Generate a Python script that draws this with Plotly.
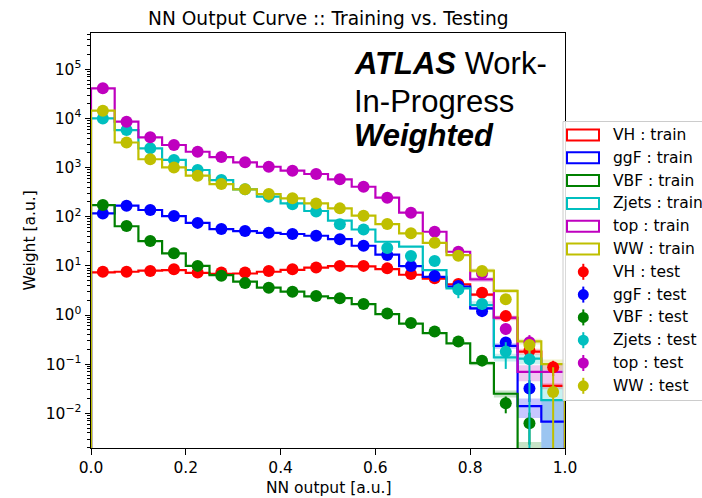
import plotly.graph_objects as go

# Histogram binning of the network output
bin_edges = [0.00, 0.05, 0.10, 0.15, 0.20, 0.25, 0.30, 0.35, 0.40, 0.45,
             0.50, 0.55, 0.60, 0.65, 0.70, 0.75, 0.80, 0.85, 0.90, 0.95, 1.00]
bin_centers = [0.025, 0.075, 0.125, 0.175, 0.225, 0.275, 0.325, 0.375, 0.425, 0.475,
               0.525, 0.575, 0.625, 0.675, 0.725, 0.775, 0.825, 0.875, 0.925, 0.975]

x_tick_vals = [0.0, 0.2, 0.4, 0.6, 0.8, 1.0]
x_tick_text = ["0.0", "0.2", "0.4", "0.6", "0.8", "1.0"]
y_tick_vals = [1e-2, 1e-1, 1e0, 1e1, 1e2, 1e3, 1e4, 1e5]
y_tick_text = ["10<sup>\u22122</sup>", "10<sup>\u22121</sup>", "10<sup>0</sup>",
               "10<sup>1</sup>", "10<sup>2</sup>", "10<sup>3</sup>",
               "10<sup>4</sup>", "10<sup>5</sup>"]

processes = ["VH", "ggF", "VBF", "Zjets", "top", "WW"]
colors = {
    "VH": (255, 0, 0),
    "ggF": (0, 0, 255),
    "VBF": (0, 128, 0),
    "Zjets": (0, 191, 191),
    "top": (191, 0, 191),
    "WW": (191, 191, 0),
}

# Weighted yields per bin, training sample
vh_train = [7.4, 7.6, 8.0, 8.2, 7.2, 6.9, 7.0, 7.6, 8.3, 9.2,
            9.9, 9.8, 8.6, 6.6, 5.5, 4.2, 2.6, 0.88, 0.18, 0.036]
ggf_train = [117, 168, 137, 103, 75, 56, 51, 47, 44.5, 41,
             35, 25.7, 17, 9.9, 6.0, 3.8, 1.37, 0.235, 0.014, 0.0068]
vbf_train = [173, 64, 32, 18, 10, 6.5, 4.8, 3.6, 3.0, 2.4,
             2.2, 1.67, 1.04, 0.67, 0.43, 0.265, 0.105, 0.025, 0, 0]
zjets_train = [10000, 5800, 2470, 1430, 893, 558, 361, 256, 187, 131,
               83, 55, 31, 24.6, 8.2, 3.5, 1.6, 0.138, 0.13, 0.0186]
top_train = [41000, 8600, 4130, 2880, 2100, 1640, 1280, 1040, 865, 740,
             577, 408, 244, 121, 49.5, 19.4, 5.3, 0.88, 0.07, 0.07]
ww_train = [14400, 3240, 1480, 1010, 684, 463, 361, 289, 237, 187,
            148, 105, 71, 46, 29.5, 16.5, 8.0, 3.1, 0.29, 0.1]

# Statistical uncertainty of the training histograms
vh_train_err = [0] * 16 + [0.2, 0.08, 0.025, 0.005]
ggf_train_err = [0] * 16 + [0.1, 0.03, 0.006, 0.011]
vbf_train_err = [0] * 16 + [0.01, 0.004, 0.0026, 0]
zjets_train_err = [0] * 16 + [0.3, 0.025, 0.03, 0.019]
top_train_err = [0] * 16 + [0.6, 0.1, 0.025, 0.035]
ww_train_err = [0] * 16 + [0.8, 0.3, 0.04, 0.025]

# Weighted yields per bin, testing sample (None: empty bin)
vh_test = [7.6, 7.6, 7.9, 8.5, 7.3, 7.3, 7.3, 7.85, 8.5, 9.3,
           10, 10, 8.9, 6.8, 5.6, 4.3, 2.85, 0.95, 0.19, 0.087]
ggf_test = [117, 168, 137, 103, 75, 56, 51, 47, 44.5, 41,
            35, 25.7, 16.6, 9.9, 6.2, 3.9, 1.2, 0.275, 0.032, None]
vbf_test = [173, 64.6, 32, 18, 10, 6.3, 4.5, 3.6, 2.96, 2.45,
            2.2, 1.67, 1.07, 0.69, 0.46, 0.29, 0.118, 0.016, 0.0063, None]
zjets_test = [10000, 5800, 2470, 1430, 893, 558, 361, 256, 180, 128,
              70, 55, 23, 15.9, 12.6, 3.3, 1.67, 0.18, 0.126, None]
top_test = [41000, 8600, 4130, 2880, 2100, 1640, 1280, 1040, 865, 740,
            577, 408, 244, 121, 49.5, 19.4, 7.1, 0.52, 0.28, None]
ww_test = [14400, 3240, 1480, 1010, 684, 463, 361, 289, 237, 187,
           148, 105, 71, 46, 29.5, 16, 7.9, 2.1, 0.245, 0.027]

vh_test_err = [0] * 16 + [0.3, 0.15, 0.05, 0.03]
ggf_test_err = [0] * 16 + [0.15, 0.04, 0.015, 0]
vbf_test_err = [0] * 16 + [0.02, 0.006, 0.004, 0]
zjets_test_err = [0] * 15 + [1.1, 0.4, 0.1, 0.13, 0]
top_test_err = [0] * 16 + [0.8, 0.12, 0.11, 0]
ww_test_err = [0] * 16 + [0.8, 0.4, 0.08, 0.06]

train = {"VH": vh_train, "ggF": ggf_train, "VBF": vbf_train,
         "Zjets": zjets_train, "top": top_train, "WW": ww_train}
train_err = {"VH": vh_train_err, "ggF": ggf_train_err, "VBF": vbf_train_err,
             "Zjets": zjets_train_err, "top": top_train_err, "WW": ww_train_err}
test = {"VH": vh_test, "ggF": ggf_test, "VBF": vbf_test,
        "Zjets": zjets_test, "top": top_test, "WW": ww_test}
test_err = {"VH": vh_test_err, "ggF": ggf_test_err, "VBF": vbf_test_err,
            "Zjets": zjets_test_err, "top": top_test_err, "WW": ww_test_err}

FLOOR = 1e-6  # stand-in for empty bins on the log axis

# Figure geometry (pixels)
W, H = 702, 498
PL, PR, PT, PB = 91, 565, 33, 448
TXT = "DejaVu Sans"


def rgb(c, a=1.0):
    return f"rgba({c[0]},{c[1]},{c[2]},{a})"


def fx(px):
    return (px - PL) / (PR - PL)


def fy(py):
    return (PB - py) / (PB - PT)


fig = go.Figure()

# Uncertainty bands around the training histograms
for p in processes:
    xs, ys = [], []
    for i, e in enumerate(train_err[p]):
        if e <= 0:
            continue
        v = train[p][i]
        lo = max(v - e, FLOOR)
        hi = v + e
        x0, x1 = bin_edges[i], bin_edges[i + 1]
        xs += [x0, x1, x1, x0, x0, None]
        ys += [lo, lo, hi, hi, lo, None]
    fig.add_trace(go.Scatter(x=xs, y=ys, mode="lines", fill="toself",
                             fillcolor=rgb(colors[p], 0.22),
                             line=dict(width=0), hoverinfo="skip",
                             showlegend=False))

# Training histograms as step outlines
for p in processes:
    vals = [v if v > 0 else FLOOR for v in train[p]]
    xs = [bin_edges[0]] + bin_edges + [bin_edges[-1]]
    ys = [FLOOR] + vals + [vals[-1], FLOOR]
    fig.add_trace(go.Scatter(x=xs, y=ys, mode="lines", line_shape="hv",
                             line=dict(color=rgb(colors[p]), width=2.2),
                             name=f"{p} : train", showlegend=False))

# Testing sample as points with error bars
for p in processes:
    fig.add_trace(go.Scatter(
        x=bin_centers, y=test[p], mode="markers",
        marker=dict(color=rgb(colors[p]), size=12, line=dict(width=0)),
        error_y=dict(type="data", array=test_err[p], color=rgb(colors[p]),
                     thickness=2, width=0),
        name=f"{p} : test", showlegend=False))

shapes = []
annotations = []

# Legend box
shapes.append(dict(type="rect", xref="paper", yref="paper",
                   x0=fx(563), x1=fx(712), y0=fy(400.5), y1=fy(121.5),
                   line=dict(color="#cccccc", width=1),
                   fillcolor="rgba(255,255,255,0.85)", layer="above"))

row0, dy = 135.0, 22.8
for k, p in enumerate(processes):
    yc = row0 + k * dy
    shapes.append(dict(type="rect", xref="paper", yref="paper",
                       x0=fx(567), x1=fx(599), y0=fy(yc + 5.5), y1=fy(yc - 5.5),
                       line=dict(color=rgb(colors[p]), width=2),
                       fillcolor="rgba(0,0,0,0)", layer="above"))
    annotations.append(dict(text=f"{p} : train", xref="paper", yref="paper",
                            x=fx(611), y=fy(yc), xanchor="left", yanchor="middle",
                            showarrow=False, font=dict(family=TXT, size=15.5, color="black")))
for k, p in enumerate(processes):
    yc = row0 + (k + 6) * dy
    shapes.append(dict(type="line", xref="paper", yref="paper",
                       x0=fx(583.3), x1=fx(583.3), y0=fy(yc + 8), y1=fy(yc - 8),
                       line=dict(color=rgb(colors[p]), width=2), layer="above"))
    shapes.append(dict(type="circle", xref="paper", yref="paper",
                       x0=fx(577.8), x1=fx(588.8), y0=fy(yc + 5.5), y1=fy(yc - 5.5),
                       line=dict(width=0), fillcolor=rgb(colors[p]), layer="above"))
    annotations.append(dict(text=f"{p} : test", xref="paper", yref="paper",
                            x=fx(611), y=fy(yc), xanchor="left", yanchor="middle",
                            showarrow=False, font=dict(family=TXT, size=15.5, color="black")))

# Title and axis titles
annotations.append(dict(text="NN Output Curve :: Training vs. Testing",
                        xref="paper", yref="paper", x=0.5, y=fy(18.5),
                        xanchor="center", yanchor="middle", showarrow=False,
                        font=dict(family=TXT, size=18.6, color="black")))
annotations.append(dict(text="NN output [a.u.]", xref="paper", yref="paper",
                        x=0.5, y=fy(488), xanchor="center", yanchor="middle",
                        showarrow=False, font=dict(family=TXT, size=15.5, color="black")))
annotations.append(dict(text="Weight [a.u.]", xref="paper", yref="paper",
                        x=fx(29), y=0.5, xanchor="center", yanchor="middle",
                        textangle=-90, showarrow=False,
                        font=dict(family=TXT, size=15.5, color="black")))

# Experiment label
LAB = "Liberation Sans"
for txt, py in [("<b><i>ATLAS</i></b> Work-", 64.0),
                ("In-Progress", 101.5),
                ("<b><i>Weighted</i></b>", 135.0)]:
    annotations.append(dict(text=txt, xref="paper", yref="paper",
                            x=fx(352), y=fy(py), xanchor="left", yanchor="middle",
                            showarrow=False, font=dict(family=LAB, size=31, color="black")))

fig.update_layout(
    width=W, height=H,
    margin=dict(l=PL, r=W - PR, t=PT, b=H - PB, pad=0),
    paper_bgcolor="white", plot_bgcolor="white",
    showlegend=False,
    shapes=shapes, annotations=annotations,
    font=dict(family=TXT, size=15.5, color="black"),
)
fig.update_xaxes(range=[0, 1], tickmode="array",
                 tickvals=x_tick_vals, ticktext=x_tick_text,
                 ticks="outside", ticklen=5.4, tickwidth=1.2, tickcolor="black",
                 showline=True, linecolor="black", linewidth=1.2, mirror=True,
                 showgrid=False, zeroline=False,
                 tickfont=dict(family=TXT, size=15.5, color="black"))
fig.update_yaxes(type="log", range=[-2.706, 5.739],
                 tickmode="array", tickvals=y_tick_vals, ticktext=y_tick_text,
                 ticks="outside", ticklen=5.4, tickwidth=1.2, tickcolor="black",
                 minor=dict(ticks="outside", ticklen=3, tickwidth=0.9,
                            tickcolor="black", tickmode="linear", dtick="D1",
                            showgrid=False),
                 showline=True, linecolor="black", linewidth=1.2, mirror=True,
                 showgrid=False, zeroline=False,
                 tickfont=dict(family=TXT, size=15.5, color="black"))

fig.write_html("out.html")
